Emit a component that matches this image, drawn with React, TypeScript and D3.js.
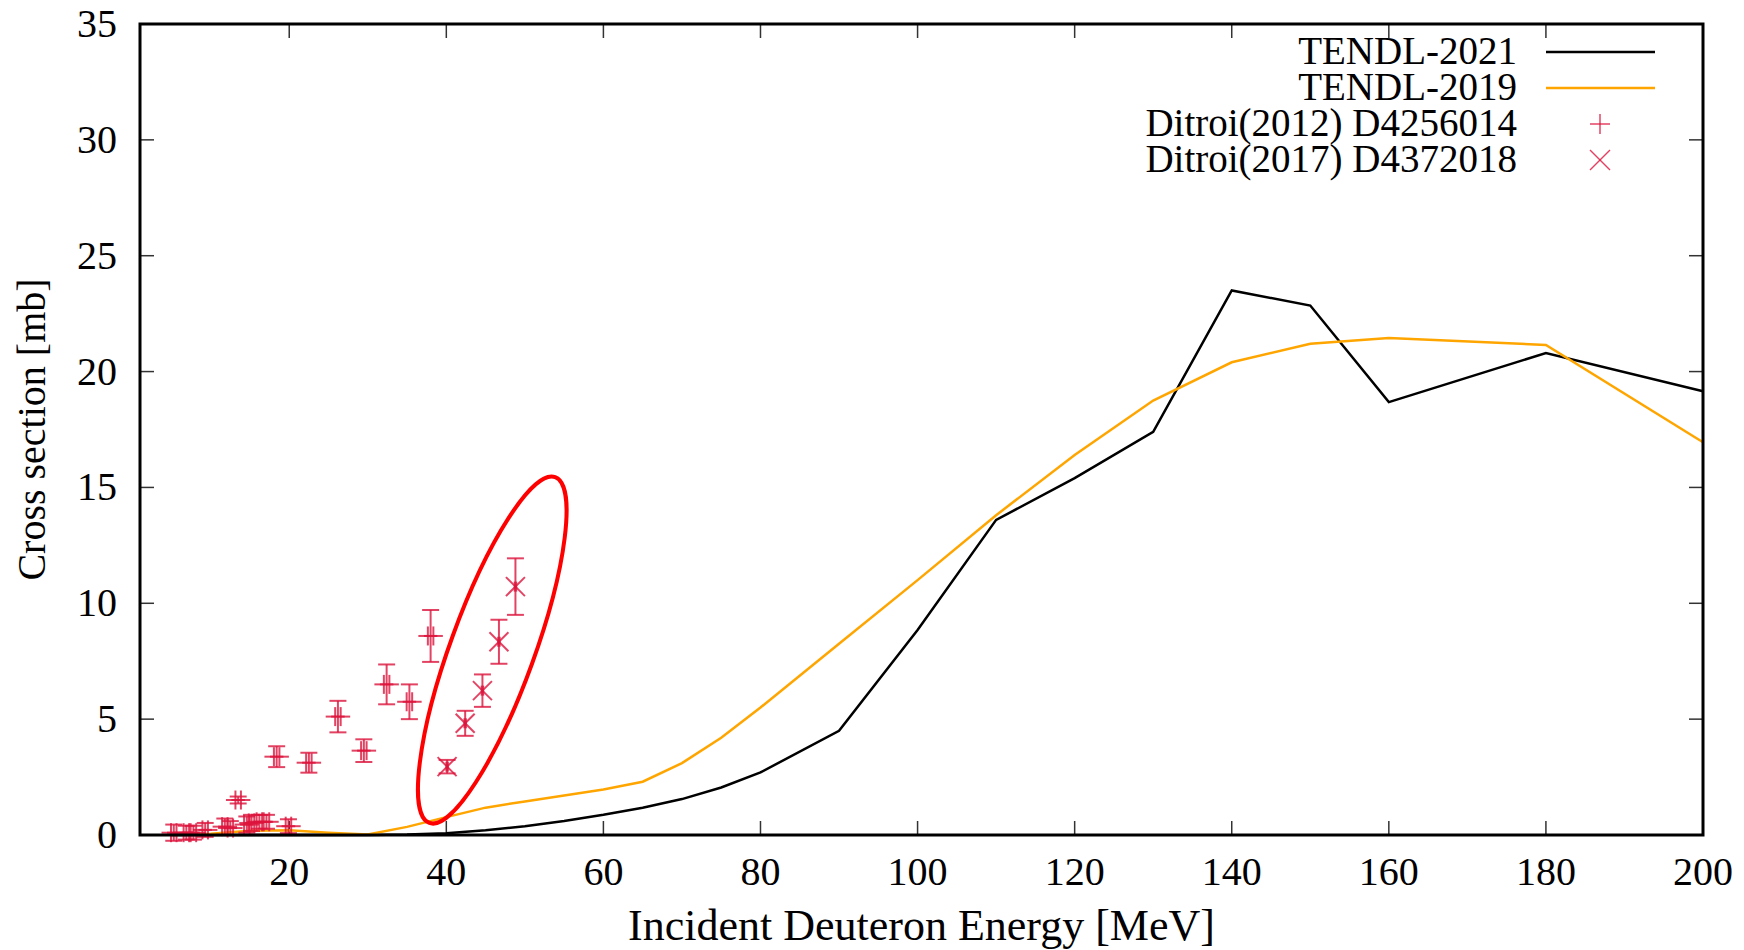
import React from 'react';
import * as d3 from 'd3';

// TENDL evaluations (energy in MeV, cross section in mb)
const tendl2021Energy = [5, 10, 20, 30, 35, 40, 45, 50, 55, 60, 65, 70, 75, 80, 90, 100, 110, 120, 130, 140, 150, 160, 180, 200];
const tendl2021Value = [0, 0, 0, 0, 0.02, 0.08, 0.2, 0.38, 0.6, 0.87, 1.18, 1.55, 2.05, 2.7, 4.5, 8.85, 13.6, 15.4, 17.4, 23.5, 22.85, 18.68, 20.8, 19.15];

const tendl2019Energy = [5, 10, 15, 20, 25, 30, 35, 40, 45, 50, 55, 60, 65, 70, 75, 80, 90, 100, 110, 120, 130, 140, 150, 160, 180, 200];
const tendl2019Value = [0, 0.05, 0.18, 0.2, 0.1, 0.02, 0.35, 0.77, 1.18, 1.45, 1.7, 1.96, 2.3, 3.1, 4.2, 5.5, 8.25, 11.0, 13.8, 16.4, 18.75, 20.4, 21.2, 21.45, 21.15, 16.95];

// Ditroi (2012), EXFOR D4256014
const ditroi2012Energy = [5.3, 6.9, 7.8, 9.3, 11.8, 12.5, 13.5, 14.6, 15.2, 16.2, 17.1, 18.4, 19.9, 22.5, 26.2, 29.5, 32.4, 35.3, 38.0];
const ditroi2012Value = [0.1, 0.1, 0.1, 0.22, 0.36, 0.3, 1.51, 0.45, 0.52, 0.57, 0.57, 3.38, 0.38, 3.12, 5.11, 3.64, 6.5, 5.75, 8.59];
const ditroi2012Error = [0.35, 0.3, 0.3, 0.3, 0.35, 0.3, 0.15, 0.35, 0.35, 0.3, 0.3, 0.45, 0.3, 0.43, 0.68, 0.49, 0.86, 0.75, 1.12];

// Ditroi (2017), EXFOR D4372018
const ditroi2017Energy = [40.1, 42.4, 44.6, 46.7, 48.8];
const ditroi2017Value = [2.95, 4.82, 6.23, 8.34, 10.72];
const ditroi2017Error = [0.29, 0.54, 0.7, 0.95, 1.22];

const xTicks = [20, 40, 60, 80, 100, 120, 140, 160, 180, 200];
const yTicks = [0, 5, 10, 15, 20, 25, 30, 35];

const legendLabels = ['TENDL-2021', 'TENDL-2019', 'Ditroi(2012) D4256014', 'Ditroi(2017) D4372018'];

// highlighted region (centre in data units)
const highlightCentre = { energy: 45.85, value: 7.98 };

const W = 1744;
const H = 950;
const left = 140;
const right = 1703;
const top = 24;
const bottom = 835;
const font = 'Liberation Serif, DejaVu Serif, Times New Roman, serif';
const crimson = '#dc143c';

export default function App() {
  const x = d3.scaleLinear().domain([1, 200]).range([left, right]);
  const y = d3.scaleLinear().domain([0, 35]).range([bottom, top]);

  const line = d3.line<[number, number]>()
    .x(d => x(d[0]))
    .y(d => y(d[1]));

  const black = line(tendl2021Energy.map((e, i) => [e, tendl2021Value[i]]));
  const orange = line(tendl2019Energy.map((e, i) => [e, tendl2019Value[i]]));

  const tick = 14;
  const cap = 8.5;
  const arm = 9.5;

  return (
    <svg width={W} height={H} style={{ position: 'absolute', left: 0, top: 0, display: 'block', background: '#fff', fontFamily: font }}>
      {/* ticks */}
      <g stroke="#333" strokeWidth={1.5}>
        {xTicks.map(t => (
          <g key={'x' + t}>
            <line x1={x(t)} x2={x(t)} y1={bottom} y2={bottom - tick} />
            <line x1={x(t)} x2={x(t)} y1={top} y2={top + tick} />
          </g>
        ))}
        {yTicks.map(t => (
          <g key={'y' + t}>
            <line x1={left} x2={left + tick} y1={y(t)} y2={y(t)} />
            <line x1={right} x2={right - tick} y1={y(t)} y2={y(t)} />
          </g>
        ))}
      </g>

      {/* tick labels */}
      <g style={{ fontFamily: font }} fontSize={40} fill="#000">
        {xTicks.map(t => (
          <text key={'xl' + t} x={x(t)} y={885} textAnchor="middle">{t}</text>
        ))}
        {yTicks.map(t => (
          <text key={'yl' + t} x={117} y={y(t) + 13} textAnchor="end">{t}</text>
        ))}
      </g>

      {/* axis titles */}
      <text x={(left + right) / 2} y={940} textAnchor="middle" style={{ fontFamily: font }} fontSize={44}>
        Incident Deuteron Energy [MeV]
      </text>
      <text transform={`translate(45,${(top + bottom) / 2}) rotate(-90)`} textAnchor="middle" style={{ fontFamily: font }} fontSize={40}>
        Cross section [mb]
      </text>

      {/* curves */}
      <path d={black ?? ''} fill="none" stroke="#000" strokeWidth={2.5} />
      <path d={orange ?? ''} fill="none" stroke="#ffa500" strokeWidth={2.5} />

      {/* Ditroi 2012 */}
      <g stroke={crimson} strokeWidth={2} strokeOpacity={0.8} fill="none">
        {ditroi2012Energy.map((e, i) => {
          const cx = x(e);
          const hi = y(ditroi2012Value[i] + ditroi2012Error[i]);
          const lo = y(ditroi2012Value[i] - ditroi2012Error[i]);
          const cy = y(ditroi2012Value[i]);
          return (
            <g key={'d12' + i}>
              <line x1={cx} x2={cx} y1={hi} y2={lo} />
              <line x1={cx - cap} x2={cx + cap} y1={hi} y2={hi} />
              <line x1={cx - cap} x2={cx + cap} y1={lo} y2={lo} />
              {[-0.35, 0.35].map(d => (
                <g key={d}>
                  <line x1={x(e + d) - arm} x2={x(e + d) + arm} y1={cy} y2={cy} />
                  <line x1={x(e + d)} x2={x(e + d)} y1={cy - arm} y2={cy + arm} />
                </g>
              ))}
            </g>
          );
        })}
      </g>

      {/* Ditroi 2017 */}
      <g stroke={crimson} strokeWidth={2} strokeOpacity={0.8} fill="none">
        {ditroi2017Energy.map((e, i) => {
          const cx = x(e);
          const hi = y(ditroi2017Value[i] + ditroi2017Error[i]);
          const lo = y(ditroi2017Value[i] - ditroi2017Error[i]);
          const cy = y(ditroi2017Value[i]);
          const a = 9.5;
          return (
            <g key={'d17' + i}>
              <line x1={cx} x2={cx} y1={hi} y2={lo} />
              <line x1={cx - cap} x2={cx + cap} y1={hi} y2={hi} />
              <line x1={cx - cap} x2={cx + cap} y1={lo} y2={lo} />
              <line x1={cx - a} x2={cx + a} y1={cy - a} y2={cy + a} />
              <line x1={cx - a} x2={cx + a} y1={cy + a} y2={cy - a} />
              <line x1={cx} x2={cx} y1={cy - 5} y2={cy + 5} strokeWidth={3.5} />
            </g>
          );
        })}
      </g>

      {/* highlight ellipse */}
      <ellipse
        cx={0}
        cy={0}
        rx={184}
        ry={42}
        transform={`translate(${x(highlightCentre.energy)},${y(highlightCentre.value)}) rotate(-70)`}
        fill="none"
        stroke="#ff0000"
        strokeWidth={4}
      />

      {/* frame */}
      <rect x={left} y={top} width={right - left} height={bottom - top} fill="none" stroke="#000" strokeWidth={3} />

      {/* legend */}
      <g style={{ fontFamily: font }} fontSize={39}>
        {legendLabels.map((lab, i) => {
          const ly = 52 + i * 36;
          return (
            <g key={lab}>
              <text x={1517} y={ly + 12} textAnchor="end">{lab}</text>
              {i === 0 && <line x1={1546} x2={1655} y1={ly} y2={ly} stroke="#000" strokeWidth={2.5} />}
              {i === 1 && <line x1={1546} x2={1655} y1={ly} y2={ly} stroke="#ffa500" strokeWidth={2.5} />}
              {i === 2 && (
                <g stroke={crimson} strokeWidth={1.5} strokeOpacity={0.8}>
                  <line x1={1590} x2={1610} y1={ly} y2={ly} />
                  <line x1={1600} x2={1600} y1={ly - 10} y2={ly + 10} />
                </g>
              )}
              {i === 3 && (
                <g stroke={crimson} strokeWidth={1.5} strokeOpacity={0.8}>
                  <line x1={1590} x2={1610} y1={ly - 10} y2={ly + 10} />
                  <line x1={1590} x2={1610} y1={ly + 10} y2={ly - 10} />
                </g>
              )}
            </g>
          );
        })}
      </g>
    </svg>
  );
}
